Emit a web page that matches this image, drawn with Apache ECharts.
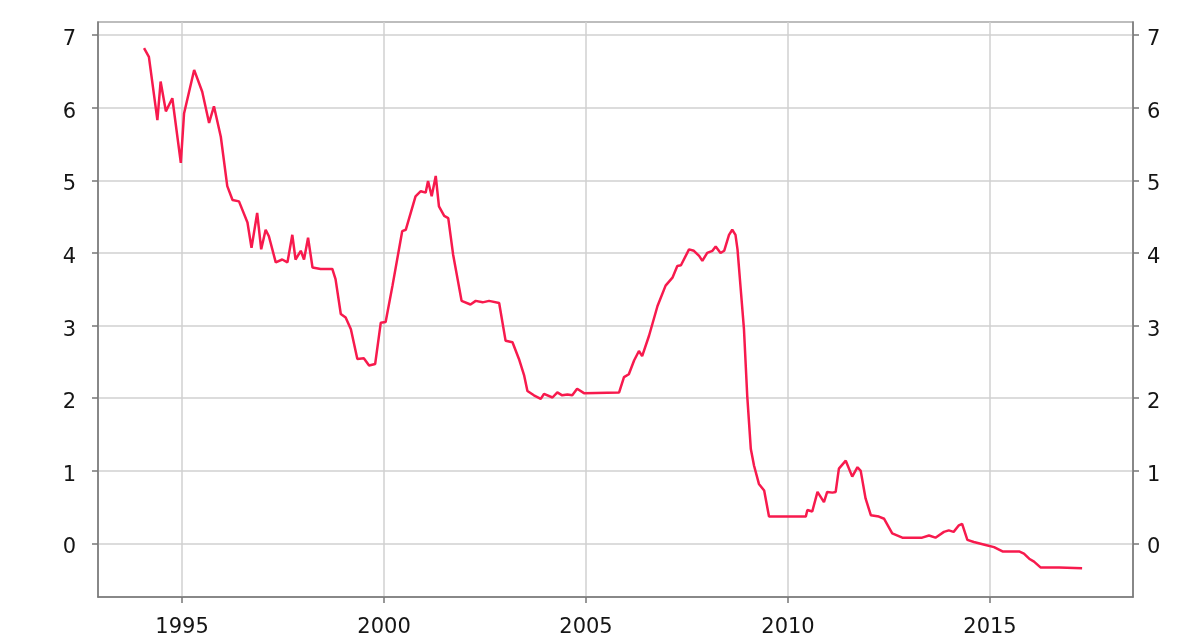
<!DOCTYPE html>
<html>
<head>
<meta charset="utf-8">
<script src="https://cdn.jsdelivr.net/npm/echarts@6/dist/echarts.min.js"></script>
<style>
  html, body { margin: 0; padding: 0; background: #ffffff; }
  #chart { width: 1182px; height: 637px; }
</style>
</head>
<body>
<div id="chart"></div>
<script>
// Short-term interest rate, per cent, decimal-year dates
const years = [
  1994.06, 1994.18, 1994.39, 1994.47, 1994.60, 1994.76, 1994.97, 1995.05, 1995.30, 1995.50,
  1995.67, 1995.79, 1995.96, 1996.12, 1996.25, 1996.41, 1996.62, 1996.72, 1996.86, 1996.96,
  1997.07, 1997.15, 1997.32, 1997.48, 1997.61, 1997.73, 1997.81, 1997.94, 1998.02, 1998.12,
  1998.23, 1998.43, 1998.72, 1998.80, 1998.93, 1999.05, 1999.18, 1999.34, 1999.50, 1999.63,
  1999.78, 1999.92, 2000.04, 2000.21, 2000.45, 2000.54, 2000.78, 2000.91, 2001.03, 2001.09,
  2001.18, 2001.28, 2001.36, 2001.49, 2001.59, 2001.71, 2001.75, 2001.92, 2002.14, 2002.27,
  2002.44, 2002.60, 2002.85, 2003.01, 2003.18, 2003.34, 2003.47, 2003.55, 2003.71, 2003.88,
  2003.96, 2004.17, 2004.29, 2004.41, 2004.54, 2004.66, 2004.78, 2004.95, 2005.82, 2005.94,
  2006.06, 2006.19, 2006.31, 2006.39, 2006.56, 2006.77, 2006.97, 2007.14, 2007.26, 2007.35,
  2007.55, 2007.67, 2007.80, 2007.88, 2008.00, 2008.13, 2008.21, 2008.33, 2008.42, 2008.54,
  2008.62, 2008.70, 2008.75, 2008.83, 2008.91, 2008.99, 2009.08, 2009.16, 2009.28, 2009.41,
  2009.53, 2010.44, 2010.48, 2010.60, 2010.73, 2010.89, 2010.97, 2011.10, 2011.18, 2011.26,
  2011.43, 2011.59, 2011.72, 2011.80, 2011.92, 2012.05, 2012.25, 2012.38, 2012.58, 2012.83,
  2013.32, 2013.49, 2013.65, 2013.86, 2013.98, 2014.10, 2014.23, 2014.31, 2014.44, 2014.60,
  2014.89, 2015.10, 2015.31, 2015.72, 2015.84, 2015.97, 2016.09, 2016.25, 2016.71, 2017.28
];
const rates = [
  6.82, 6.70, 5.83, 6.36, 5.95, 6.13, 5.24, 5.92, 6.52, 6.22,
  5.79, 6.02, 5.60, 4.92, 4.73, 4.71, 4.42, 4.07, 4.55, 4.05,
  4.32, 4.23, 3.87, 3.91, 3.87, 4.25, 3.91, 4.03, 3.91, 4.21,
  3.80, 3.78, 3.78, 3.64, 3.16, 3.11, 2.95, 2.54, 2.55, 2.45,
  2.47, 3.04, 3.05, 3.55, 4.30, 4.32, 4.78, 4.85, 4.83, 4.99,
  4.78, 5.06, 4.64, 4.51, 4.48, 3.98, 3.97, 3.34, 3.29, 3.34,
  3.32, 3.34, 3.31, 2.79, 2.77, 2.54, 2.31, 2.10, 2.04, 1.99,
  2.06, 2.01, 2.08, 2.04, 2.05, 2.04, 2.13, 2.07, 2.08, 2.29,
  2.33, 2.52, 2.65, 2.58, 2.86, 3.27, 3.55, 3.66, 3.82, 3.83,
  4.05, 4.03, 3.96, 3.89, 4.00, 4.03, 4.09, 4.00, 4.03, 4.25,
  4.32, 4.25, 4.05, 3.50, 2.95, 2.04, 1.30, 1.07, 0.82, 0.73,
  0.37, 0.37, 0.46, 0.44, 0.71, 0.57, 0.71, 0.70, 0.71, 1.03,
  1.14, 0.92, 1.05, 1.00, 0.62, 0.39, 0.37, 0.34, 0.14, 0.08,
  0.08, 0.11, 0.08, 0.16, 0.18, 0.16, 0.25, 0.27, 0.05, 0.02,
  -0.02, -0.05, -0.11, -0.11, -0.14, -0.21, -0.25, -0.33, -0.33, -0.34
];
const yearTicks = [1995, 2000, 2005, 2010, 2015];
const rateTicks = [0, 1, 2, 3, 4, 5, 6, 7];

const seriesData = years.map((y, i) => [y, rates[i]]);

const labelFont = {
  fontFamily: 'DejaVu Sans',
  fontSize: 21,
  color: '#151515'
};
const axisLineStyle = { color: '#777777', width: 1.5 };
const gridLineStyle = { color: '#d0d0d0', width: 1.5 };

function rateAxis(position) {
  const left = position === 'left';
  return {
    type: 'value',
    position: position,
    min: -0.737,
    max: 7.18,
    axisLine: { show: true, onZero: false, lineStyle: axisLineStyle },
    axisTick: { show: true, length: 6, lineStyle: axisLineStyle, customValues: rateTicks },
    axisLabel: Object.assign({
      margin: left ? 22 : 14,
      customValues: rateTicks,
      hideOverlap: false,
      formatter: v => '{v|' + v + '}',
      rich: {
        v: Object.assign({ padding: [9, 0, 0, 0] }, labelFont)
      }
    }, labelFont),
    splitLine: { show: left, lineStyle: gridLineStyle }
  };
}

const chart = echarts.init(document.getElementById('chart'), null, { renderer: 'canvas' });
chart.setOption({
  animation: false,
  backgroundColor: '#ffffff',
  grid: {
    left: 98,
    right: 49,
    top: 22,
    bottom: 40,
    show: true,
    borderColor: '#a8a8a8',
    borderWidth: 1.5,
    backgroundColor: 'transparent',
    outerBoundsMode: 'none'
  },
  xAxis: {
    type: 'value',
    min: 1992.92,
    max: 2018.54,
    axisLine: { show: true, onZero: false, lineStyle: axisLineStyle },
    axisTick: { show: true, length: 6, lineStyle: axisLineStyle, customValues: yearTicks },
    axisLabel: Object.assign({
      margin: 20,
      customValues: yearTicks,
      hideOverlap: false,
      formatter: v => String(v)
    }, labelFont),
    splitLine: { show: true, lineStyle: gridLineStyle }
  },
  yAxis: [rateAxis('left'), rateAxis('right')],
  series: [{
    type: 'line',
    data: seriesData,
    showSymbol: false,
    smooth: false,
    lineStyle: { color: '#f71a4d', width: 2.5 },
    z: 3
  }]
});
</script>
</body>
</html>
